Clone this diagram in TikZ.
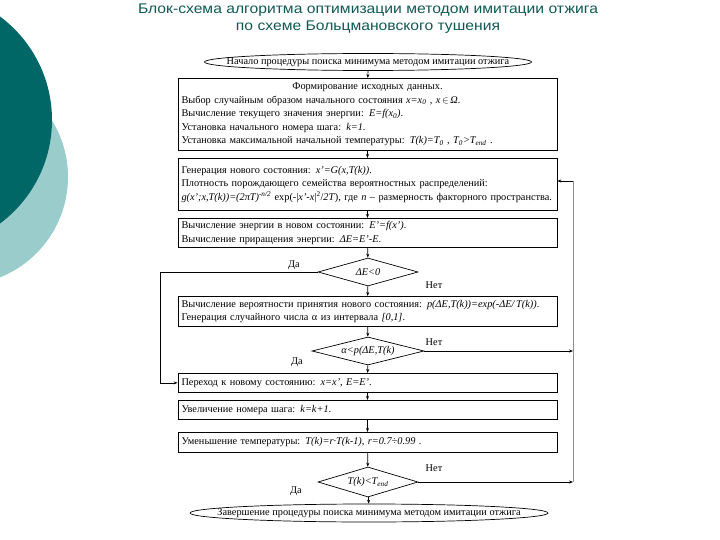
\documentclass[tikz,border=0pt]{standalone}
\usepackage{fontspec}
\setmainfont{Liberation Serif}
\newfontfamily\titlefont{Liberation Sans}[FakeStretch=1.12]
\usetikzlibrary{shapes.geometric,arrows.meta}
\definecolor{tealdark}{RGB}{0,102,102}
\definecolor{teallight}{RGB}{155,204,204}
\definecolor{titlecol}{RGB}{16,88,84}
\begin{document}
\begin{tikzpicture}[x=1pt,y=-1pt,
  txt/.style={font=\fontsize{10.3}{13.6}\selectfont},
  box/.style={draw, line width=0.7pt, txt, text width=372pt, align=left, inner xsep=3.5pt, inner ysep=2pt, minimum width=379pt, anchor=north},
  term/.style={draw, line width=0.7pt, ellipse, txt, inner sep=0pt},
  dec/.style={draw, line width=0.7pt, diamond, txt, inner sep=0pt, aspect=4},
  arr/.style={line width=0.7pt, -{Stealth[length=4pt,width=3pt]}},
  lab/.style={font=\fontsize{10.3}{11}\selectfont}]
\useasboundingbox (0,0) rectangle (720,540);
% decorative circles
\fill[teallight] (-40,177) circle (108);
\fill[tealdark] (-77,120) circle (129);
% title
\node[titlecol, font=\titlefont\fontsize{14}{17}\selectfont, align=center] (title) at (368,19)
  {Блок-схема алгоритма оптимизации методом имитации отжига\\по схеме Больцмановского тушения};
% flowchart
\node[term, minimum width=327pt, minimum height=17pt] (start) at (368,62)
  {\makebox[0pt][c]{Начало процедуры поиска минимума методом имитации отжига}};
\node[box, minimum height=72pt] (b1) at (367.5,78)
  {\makebox[\linewidth][c]{Формирование исходных данных.}\\
   Выбор случайным образом начального состояния \textit{x=x\textsubscript{0}} , \textit{x}\,$\in$\,\textit{Ω}.\\
   Вычисление текущего значения энергии: \textit{E=f(x\textsubscript{0})}.\\
   Установка начального номера шага: \textit{k=1}.\\
   Установка максимальной начальной температуры: \textit{T(k)=T\textsubscript{0}} , \textit{T\textsubscript{0}>T\textsubscript{end}} .};
\node[box, minimum height=52pt] (b2) at (367.5,158)
  {Генерация нового состояния: \textit{x'=G(x,T(k))}.\\
   Плотность порождающего семейства вероятностных распределений:\\
   \textit{g(x';x,T(k))=(2πT)\textsuperscript{-n/2}} exp(-|\textit{x'}-\textit{x}|\textsuperscript{2}/\textit{2T}), где \textit{n} – размерность факторного пространства.\\[4pt]};
\node[box, minimum height=29pt] (b3) at (367.5,218)
  {Вычисление энергии в новом состоянии: \textit{E'=f(x')}.\\
   Вычисление приращения энергии: \textit{ΔE=E'-E}.};
\node[dec, minimum width=100pt, minimum height=28pt] (d1) at (368,272) {\textit{ΔE<0}};
\node[box, minimum height=30pt] (b5) at (367.5,296)
  {Вычисление вероятности принятия нового состояния: \textit{p(ΔE,T(k))=exp(-ΔE/\,T(k))}.\\
   Генерация случайного числа α из интервала \textit{[0,1]}.};
\node[dec, minimum width=112pt, minimum height=28pt] (d2) at (368,351) {\textit{α<p(ΔE,T(k)}};
\node[box, minimum height=19pt] (b7) at (367.5,373)
  {Переход к новому состоянию: \textit{x=x'}, \textit{E=E'}.};
\node[box, minimum height=19pt] (b8) at (367.5,400)
  {Увеличение номера шага: \textit{k=k+1}.};
\node[box, minimum height=20pt] (b9) at (367.5,432)
  {Уменьшение температуры: \textit{T(k)=r·T(k-1)}, \textit{r=0.7÷0.99} .};
\node[dec, minimum width=100pt, minimum height=30pt] (d3) at (368,482) {\textit{T(k)<T\textsubscript{end}}};
\node[term, minimum width=358pt, minimum height=18pt] (end) at (369,513)
  {\makebox[0pt][c]{Завершение процедуры поиска минимума методом имитации отжига}};
% labels
\node[lab] (yes1) at (294,265) {Да};
\node[lab] (no1) at (434,285) {Нет};
\node[lab] (no2) at (434,342) {Нет};
\node[lab] (yes2) at (297,362) {Да};
\node[lab] (no3) at (434,468) {Нет};
\node[lab] (yes3) at (296,491) {Да};
% coordinates
\coordinate (L) at (160,272);
\coordinate (R2) at (573,351);
\coordinate (R3) at (573,482);
\coordinate (Rtop) at (573,181);
% connectors
\draw[arr] (start) -- (b1);
\draw[arr] (b1) -- (b2);
\draw[arr] (b2) -- (b3);
\draw[arr] (b3) -- (d1);
\draw[arr] (d1) -- (b5);
\draw[arr] (b5) -- (d2);
\draw[arr] (d2) -- (b7);
\draw[arr] (b7) -- (b8);
\draw[arr] (b8) -- (b9);
\draw[arr] (b9) -- (d3);
\draw[arr] (d3) -- (end);
\draw[arr] (d1.west) -- (L) |- (b7.west);
\draw[arr] (d2.east) -- (R2);
\draw[arr] (d3.east) -- (R3);
\draw[black!45, line width=1pt] (R3) -- (Rtop);
\draw[arr] (Rtop) -- (Rtop -| b2.east);
\end{tikzpicture}
\end{document}
